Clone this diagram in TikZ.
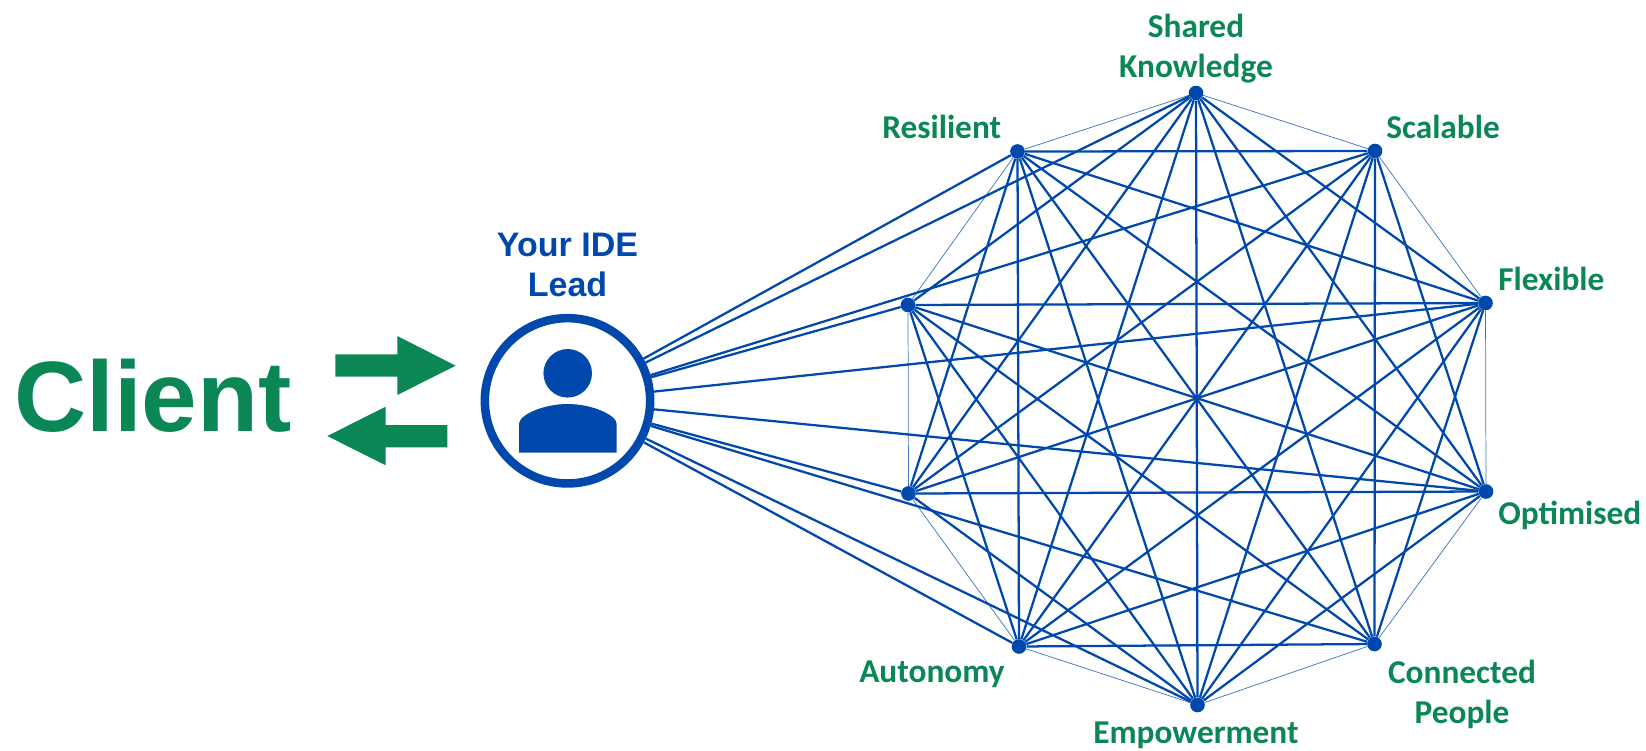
\documentclass[tikz,border=0pt]{standalone}
\usepackage{fontspec}
\setmainfont{Carlito}
\newfontfamily\arialfont{Liberation Sans}
\definecolor{ideblue}{HTML}{0048AC}
\definecolor{idegreen}{HTML}{0A8755}
\tikzset{
  chord/.style={draw=ideblue,line width=1.7pt},
  rim/.style={draw=ideblue!75,line width=0.55pt},
  dot/.style={circle,fill=ideblue,inner sep=0pt,minimum size=11pt},
  lbl/.style={text=idegreen,inner sep=0pt,font=\fontsize{25}{30}\selectfont\bfseries,align=center},
  leadring/.style={circle,draw=ideblue,line width=6.4pt,fill=white,inner sep=0pt,minimum size=124pt},
  leadlbl/.style={text=ideblue,inner sep=0pt,font=\arialfont\fontsize{25.5}{30}\selectfont\bfseries,align=center},
  flow/.style={fill=idegreen}
}
\begin{document}
\begin{tikzpicture}[x=0.75pt,y=-0.75pt]
\useasboundingbox (0,0) rectangle (1646,750);
% ring points
\node[dot] (n1) at (1196,93) {};
\node[dot] (n2) at (1375,151) {};
\node[dot] (n3) at (1485.5,303) {};
\node[dot] (n4) at (1486,491.5) {};
\node[dot] (n5) at (1374.5,644) {};
\node[dot] (n6) at (1197.5,705) {};
\node[dot] (n7) at (1019,646.5) {};
\node[dot] (n8) at (908.5,493.5) {};
\node[dot] (n9) at (908,305) {};
\node[dot] (n10) at (1017.5,151.5) {};
% thin rim
\foreach \a/\b in {1/2,2/3,3/4,4/5,5/6,6/7,7/8,8/9,9/10,10/1}
  \draw[rim] (n\a) -- (n\b);
% chords (n2-n9 and n5-n8 are not in the picture)
\foreach \i/\s in {1/3,2/4,3/5,4/6,5/7,6/8,7/9,8/10}
  \foreach \j in {\s,...,10}{
    \ifnum\i\j=110 \else\ifnum\i\j=29 \else\ifnum\i\j=58 \else
      \draw[chord] (n\i) -- (n\j);
    \fi\fi\fi
  }
% lead
\node[leadring] (lead) at (567.5,400.8) {};
\foreach \i in {1,...,10}
  \draw[chord] (lead) -- (n\i);
% person icon
\fill[ideblue] (567.7,373.3) circle[radius=18.2pt];
\fill[ideblue] (519,452.7) -- (519,424) .. controls (519,415) and (543,404) .. (567.7,404)
  .. controls (592,404) and (616.7,415) .. (616.7,424) -- (616.7,452.7) -- cycle;
% labels
\node[leadlbl,anchor=base] (leadt) at (567.5,296) {Your IDE\\Lead};
\node[text=idegreen,inner sep=0pt,anchor=base,font=\arialfont\fontsize{75}{80}\selectfont\bfseries] (client) at (153,431) {Client};
\node[lbl,anchor=base] (l1) at (1196,77) {Shared\\Knowledge};
\node[lbl,anchor=base west] (l2) at (1386,138) {Scalable};
\node[lbl,anchor=base west] (l3) at (1498,290) {Flexible};
\node[lbl,anchor=base west] (l4) at (1498,524) {Optimised};
\node[lbl,anchor=base] (l5) at (1462,723) {Connected\\People};
\node[lbl,anchor=base west] (l6) at (1093,743) {Empowerment};
\node[lbl,anchor=base west] (l7) at (859,682) {Autonomy};
\node[lbl,anchor=base west] (l10) at (882,138) {Resilient};
% arrows
\fill[flow] (335.3,354.3) -- (397.3,354.3) -- (397.3,336) -- (455.7,365.7) -- (397.3,395) -- (397.3,376.7) -- (335.3,376.7) -- cycle;
\fill[flow] (447.3,425) -- (385.7,425) -- (385.7,406.7) -- (327.3,436) -- (385.7,465.3) -- (385.7,447.3) -- (447.3,447.3) -- cycle;
\end{tikzpicture}
\end{document}
